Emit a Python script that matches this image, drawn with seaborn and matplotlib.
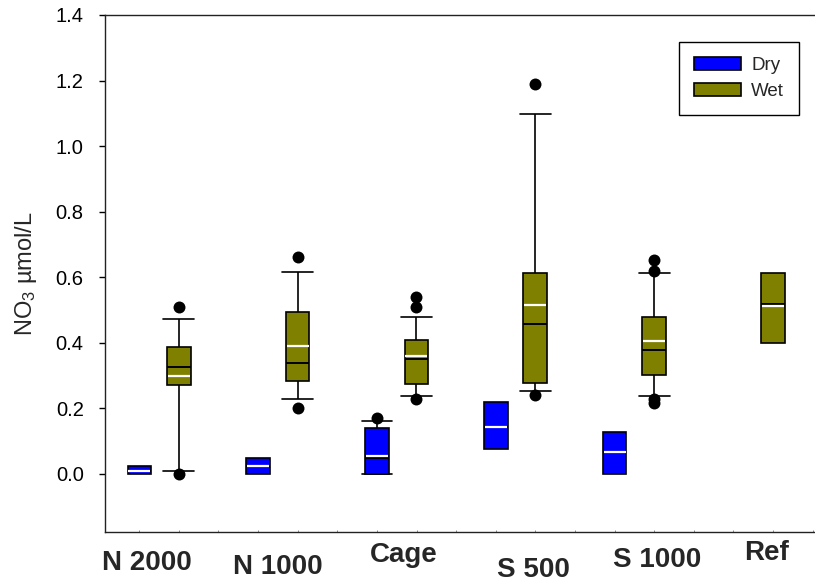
import numpy as np
import pandas as pd
import matplotlib
matplotlib.use("Agg")
import matplotlib.pyplot as plt
import matplotlib.transforms as mtransforms
from matplotlib.ticker import FixedLocator
import seaborn as sns

# ---------------- data ----------------
SITES = ["N 2000", "N 1000", "Cage", "S 500", "S 1000", "Ref"]
SEASONS = ["Dry", "Wet"]
COLORS = {"Dry": "#0000FF", "Wet": "#808000"}

BOX_SITE = ["N 2000", "N 2000", "N 1000", "N 1000", "Cage", "Cage",
            "S 500", "S 500", "S 1000", "S 1000", "Ref"]
BOX_SEASON = ["Dry", "Wet", "Dry", "Wet", "Dry", "Wet",
              "Dry", "Wet", "Dry", "Wet", "Wet"]
WHISKER_LOW = [0.000, 0.010, 0.000, 0.230, 0.000, 0.238, 0.076, 0.253, 0.000, 0.238, 0.401]
Q1 = [0.000, 0.272, 0.000, 0.283, 0.000, 0.274, 0.076, 0.276, 0.000, 0.302, 0.401]
MEDIAN = [0.010, 0.327, 0.025, 0.338, 0.048, 0.350, 0.143, 0.457, 0.066, 0.378, 0.518]
Q3 = [0.024, 0.388, 0.048, 0.493, 0.141, 0.409, 0.219, 0.612, 0.128, 0.478, 0.612]
WHISKER_HIGH = [0.024, 0.472, 0.048, 0.616, 0.163, 0.478, 0.219, 1.098, 0.128, 0.612, 0.612]
MEAN = [0.010, 0.300, 0.025, 0.389, 0.056, 0.360, 0.143, 0.515, 0.066, 0.405, 0.511]
OUTLIERS = [[], [0.51, 0.0], [], [0.662, 0.20], [0.17], [0.54, 0.51, 0.23],
            [], [1.19, 0.24], [], [0.652, 0.62, 0.23, 0.217], []]

YTICKS = [0.0, 0.2, 0.4, 0.6, 0.8, 1.0, 1.2, 1.4]
YLABEL = "NO$_3$ µmol/L"

# ---------------- styling / layout ----------------
BOX_GROUP_WIDTH = 0.664      # width shared by the two hue boxes of a site
BOX_GAP = 0.4                # -> each box 0.2 category units wide
CAP_WIDTH = 0.26
DODGE = BOX_GROUP_WIDTH / 2  # same hue offsets for the point layers
LABEL_NUDGE_X = [-12, 0, 7.5, 18, 22.5, 13]     # px
LABEL_NUDGE_Y = [0, -3.5, 8, -6.5, 3, 10]       # px (positive = up)

sns.set_style("ticks")
plt.rcParams["font.family"] = ["Liberation Sans", "DejaVu Sans"]
plt.rcParams["mathtext.default"] = "regular"

# long-form tables built from the arrays above
rows = []
for i, (s, h) in enumerate(zip(BOX_SITE, BOX_SEASON)):
    has_wh = (WHISKER_LOW[i] < Q1[i]) or (WHISKER_HIGH[i] > Q3[i])
    for v in (WHISKER_LOW[i], Q1[i], MEDIAN[i], Q3[i], WHISKER_HIGH[i]):
        rows.append({"site": s, "season": h, "value": v, "whiskers": has_wh})
box_df = pd.DataFrame(rows)
mean_df = pd.DataFrame({"site": BOX_SITE, "season": BOX_SEASON, "value": MEAN})
out_rows = []
for s, h, outs in zip(BOX_SITE, BOX_SEASON, OUTLIERS):
    for r, v in enumerate(outs):
        out_rows.append({"site": s, "season": h, "value": v, "rank": r})
out_df = pd.DataFrame(out_rows)

fig = plt.figure(figsize=(8.15, 5.83), dpi=100)
ax = fig.add_axes([105 / 815, 51 / 583, 710 / 815, 517 / 583])

first = True
for flag in (True, False):
    sub = box_df[box_df["whiskers"] == flag]
    sns.boxplot(data=sub, x="site", y="value", hue="season",
                order=SITES, hue_order=SEASONS, palette=COLORS, saturation=1,
                width=BOX_GROUP_WIDTH, gap=BOX_GAP, dodge=True, whis=(0, 100),
                showcaps=flag, capwidths=CAP_WIDTH, showfliers=False,
                linecolor="black", linewidth=1.2,
                medianprops={"linewidth": 1.4},
                legend="auto" if first else False, ax=ax)
    first = False

sns.pointplot(data=mean_df, x="site", y="value", hue="season",
              order=SITES, hue_order=SEASONS,
              palette={"Dry": "white", "Wet": "white"},
              markers="_", linestyle="none", dodge=DODGE, errorbar=None,
              legend=False, markersize=15.5, markeredgewidth=1.6, zorder=5, ax=ax)

for r in sorted(out_df["rank"].unique()):
    sub = out_df[out_df["rank"] == r]
    sns.pointplot(data=sub, x="site", y="value", hue="season",
                  order=SITES, hue_order=SEASONS,
                  palette={"Dry": "black", "Wet": "black"},
                  markers="o", linestyle="none", dodge=DODGE, errorbar=None,
                  legend=False, markersize=8.6, markeredgewidth=0, zorder=6, ax=ax)

# axes
ax.set_xlim(-0.455, 5.52)
ax.set_ylim(-0.177, 1.4)
ax.set_yticks(YTICKS)
ax.set_yticklabels([f"{v:.1f}" for v in YTICKS], fontsize=14.5)
ax.set_xlabel("")
ax.set_ylabel(YLABEL, fontsize=17, labelpad=12)
ax.tick_params(axis="y", direction="out", length=4.3, width=1, pad=11, colors="black")
ax.tick_params(axis="x", which="major", length=0, pad=13)
ax.xaxis.set_minor_locator(FixedLocator(np.arange(-1 / 6, 5.52, 1 / 3)))
ax.tick_params(axis="x", which="minor", direction="in", length=1.5, width=0.6,
               color="#777777", bottom=True, top=False)
ax.set_xticks(range(len(SITES)))
ax.set_xticklabels(SITES, fontsize=20, fontweight="bold")
for side in ("left", "top", "bottom"):
    ax.spines[side].set_visible(True)
    ax.spines[side].set_color("#222222")
    ax.spines[side].set_linewidth(1.0)
ax.spines["right"].set_visible(False)
ax.grid(False)

sns.move_legend(ax, "upper right", bbox_to_anchor=(0.9775, 0.9478),
                borderaxespad=0, frameon=True, fancybox=False, edgecolor="black",
                framealpha=1, fontsize=13.5, handlelength=2.5, handleheight=0.72,
                labelspacing=0.45, handletextpad=0.55, borderpad=0.8, title="")
ax.get_legend().get_frame().set_linewidth(1.0)

for lbl, dx, dy in zip(ax.get_xticklabels(), LABEL_NUDGE_X, LABEL_NUDGE_Y):
    lbl.set_transform(lbl.get_transform() +
                      mtransforms.ScaledTranslation(dx / 100, dy / 100, fig.dpi_scale_trans))

fig.savefig("out.png", dpi=100)
